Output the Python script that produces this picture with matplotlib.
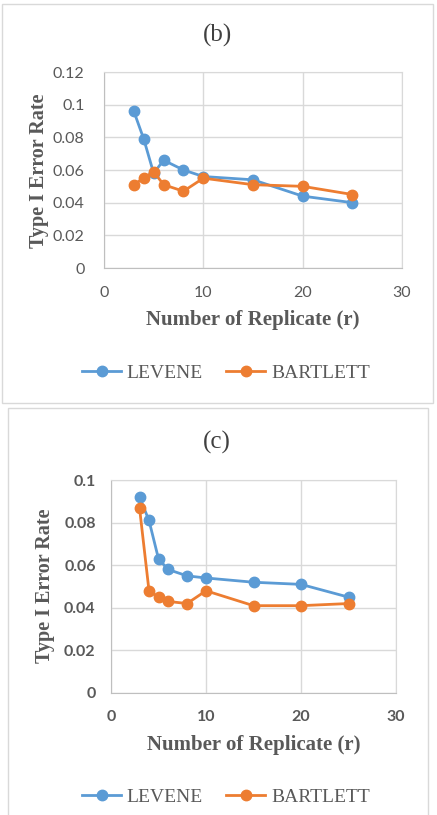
import numpy as np
import matplotlib
matplotlib.use("Agg")
import matplotlib.pyplot as plt
from matplotlib.patches import Rectangle
from matplotlib.ticker import FuncFormatter

# data
reps = [3, 4, 5, 6, 8, 10, 15, 20, 25]
levene_b = [0.096, 0.079, 0.058, 0.066, 0.060, 0.056, 0.054, 0.044, 0.040]
bartlett_b = [0.051, 0.055, 0.059, 0.051, 0.047, 0.055, 0.051, 0.050, 0.045]
levene_c = [0.092, 0.081, 0.063, 0.058, 0.055, 0.054, 0.052, 0.051, 0.045]
bartlett_c = [0.087, 0.048, 0.045, 0.043, 0.042, 0.048, 0.041, 0.041, 0.042]

BLUE = "#5B9BD5"
ORANGE = "#ED7D31"
W, H = 437, 815
serif = "Liberation Serif"
sans = "Lato"

fig = plt.figure(figsize=(W / 100, H / 100), dpi=100)
fig.patch.set_facecolor("white")


def fx(px):
    return px / W


def fy(py):
    return 1 - py / H


def panel(box, frame, lev, bar, ymax, title, title_y, ylab_x, ylab_y,
          xlab_y, leg_y, bold_ticks, ypad, xpad):
    x0, y0, x1, y1 = box
    ax = fig.add_axes([fx(x0), fy(y1), fx(x1 - x0), (y1 - y0) / H])
    ax.plot(reps, lev, color=BLUE, lw=2.0, marker="o", ms=7.5, label="LEVENE")
    ax.plot(reps, bar, color=ORANGE, lw=2.0, marker="o", ms=7.5, label="BARTLETT")
    ax.set_xlim(0, 30)
    ax.set_ylim(0, ymax)
    ax.set_xticks([0, 10, 20, 30])
    ax.set_yticks(np.arange(0, ymax + 1e-9, 0.02))
    ax.yaxis.set_major_formatter(FuncFormatter(lambda v, p: "%g" % round(v, 3)))
    ax.grid(True, color="#D9D9D9", lw=1.0)
    ax.set_axisbelow(True)
    for s in ["top", "right"]:
        ax.spines[s].set_color("#D9D9D9")
    for s in ["left", "bottom"]:
        ax.spines[s].set_color("#BFBFBF")
    ax.tick_params(length=0, labelsize=11.5, labelcolor="#595959")
    ax.tick_params(axis="y", pad=ypad)
    ax.tick_params(axis="x", pad=xpad)
    for lab in ax.get_xticklabels() + ax.get_yticklabels():
        lab.set_family(sans)
        if bold_ticks:
            lab.set_weight("bold")

    fr = Rectangle((fx(frame[0]), fy(frame[3])), fx(frame[2] - frame[0]),
                   (frame[3] - frame[1]) / H, transform=fig.transFigure,
                   fill=False, ec="#D9D9D9", lw=1.0)
    fig.patches.append(fr)

    fig.text(fx(217), fy(title_y), title, ha="center", va="center",
             family=serif, fontsize=18, color="#404040")
    fig.text(fx(ylab_x), fy(ylab_y), "Type I Error Rate", rotation=90,
             ha="center", va="center", family=serif, fontsize=14.5,
             fontweight="bold", color="#595959")
    fig.text(fx((x0 + x1) / 2), fy(xlab_y), "Number of Replicate (r)",
             ha="center", va="center", family=serif, fontsize=15,
             fontweight="bold", color="#595959")
    h, l = ax.get_legend_handles_labels()
    fig.legend(h, l, loc="center", bbox_to_anchor=(fx(226), fy(leg_y)),
               ncol=2, frameon=False, handlelength=2.0, handletextpad=0.3,
               columnspacing=1.2, prop={"family": serif, "size": 14},
               labelcolor="#595959")
    return ax


panel((104, 72, 402, 268), (2, 4, 433, 403), levene_b, bartlett_b, 0.12,
      "(b)", 35, 39, 171, 320, 373, False, 14, 13)
panel((111, 480, 396, 693), (8, 408, 428, 820), levene_c, bartlett_c, 0.1,
      "(c)", 442, 45, 586, 745, 797, True, 11, 12)

fig.savefig("out.png", dpi=100)
